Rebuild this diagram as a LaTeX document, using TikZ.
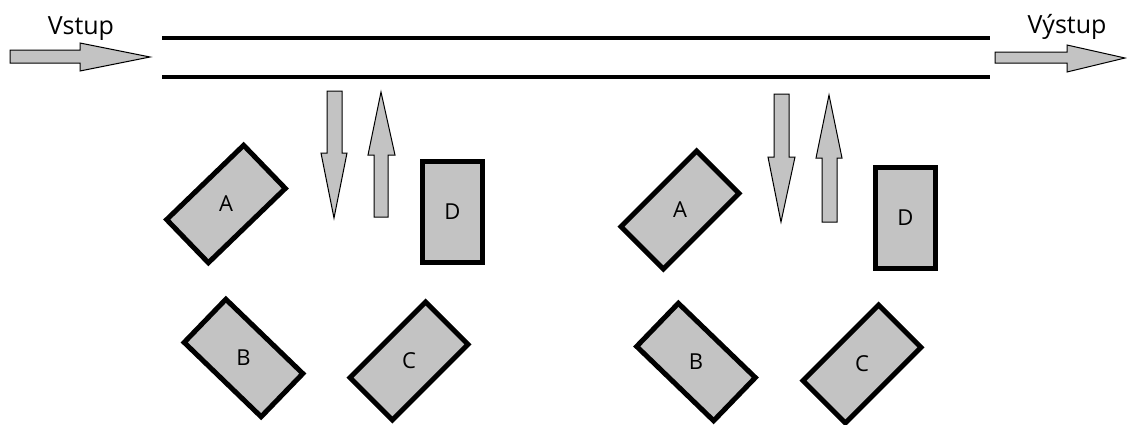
\documentclass[tikz,border=0pt]{standalone}
\usepackage{fontspec}
\setmainfont{Open Sans}
\definecolor{boxgray}{RGB}{195,195,195}
\tikzset{
  box/.style={draw=black, line width=5pt, fill=boxgray, minimum width=107pt, minimum height=60pt, inner sep=0pt},
  tallbox/.style={box, minimum width=60pt, minimum height=101pt},
  boxtext/.style={inner sep=0pt, font=\fontsize{22}{22}\selectfont},
  garrow/.style={draw=black, line width=1pt, fill=boxgray, line join=miter},
  rail/.style={draw=black, line width=4pt},
  lbl/.style={anchor=base, inner sep=0pt, font=\fontsize{25}{25}\selectfont}
}
\begin{document}
\begin{tikzpicture}[x=1pt, y=-1pt]
\useasboundingbox (0,0) rectangle (1127,424);
% rails
\draw[rail] (162,38) -- (990,38);
\draw[rail] (162,77) -- (990,77);
% input / output arrows
\draw[garrow] (10,50) -- (80,50) -- (80,43) -- (150,57) -- (80,71) -- (80,63) -- (10,63) -- cycle;
\draw[garrow] (995,52) -- (1067,52) -- (1067,45) -- (1125,58) -- (1067,72) -- (1067,63) -- (995,63) -- cycle;
\node[lbl] (vstup) at (81,34) {Vstup};
\node[lbl] (vystup) at (1067,33) {Výstup};
% left group
\draw[garrow] (327,91) -- (342,91) -- (342,153) -- (347,153) -- (334,218) -- (321,153) -- (327,153) -- cycle;
\draw[garrow] (374,217) -- (388,217) -- (388,155) -- (395,155) -- (381,92) -- (368,155) -- (374,155) -- cycle;
\node[box, rotate=44] (a1) at (226,204) {};
\node[boxtext] (a1t) at (a1.center) {A};
\node[tallbox] (d1) at (452.5,212) {};
\node[boxtext] (d1t) at (d1.center) {D};
\node[box, rotate=-44] (b1) at (243.5,358) {};
\node[boxtext] (b1t) at (b1.center) {B};
\node[box, rotate=45] (c1) at (409,361) {};
\node[boxtext] (c1t) at (c1.center) {C};
% right group
\draw[garrow] (774,94) -- (789,94) -- (789,157) -- (795,157) -- (781,222) -- (768,157) -- (774,157) -- cycle;
\draw[garrow] (822,222) -- (837,222) -- (837,158) -- (842,158) -- (829,95) -- (816,158) -- (822,158) -- cycle;
\node[box, rotate=45] (a2) at (680,210) {};
\node[boxtext] (a2t) at (a2.center) {A};
\node[tallbox] (d2) at (905.5,217.5) {};
\node[boxtext] (d2t) at (d2.center) {D};
\node[box, rotate=-44] (b2) at (696,362) {};
\node[boxtext] (b2t) at (b2.center) {B};
\node[box, rotate=45] (c2) at (862,364) {};
\node[boxtext] (c2t) at (c2.center) {C};
\end{tikzpicture}
\end{document}
